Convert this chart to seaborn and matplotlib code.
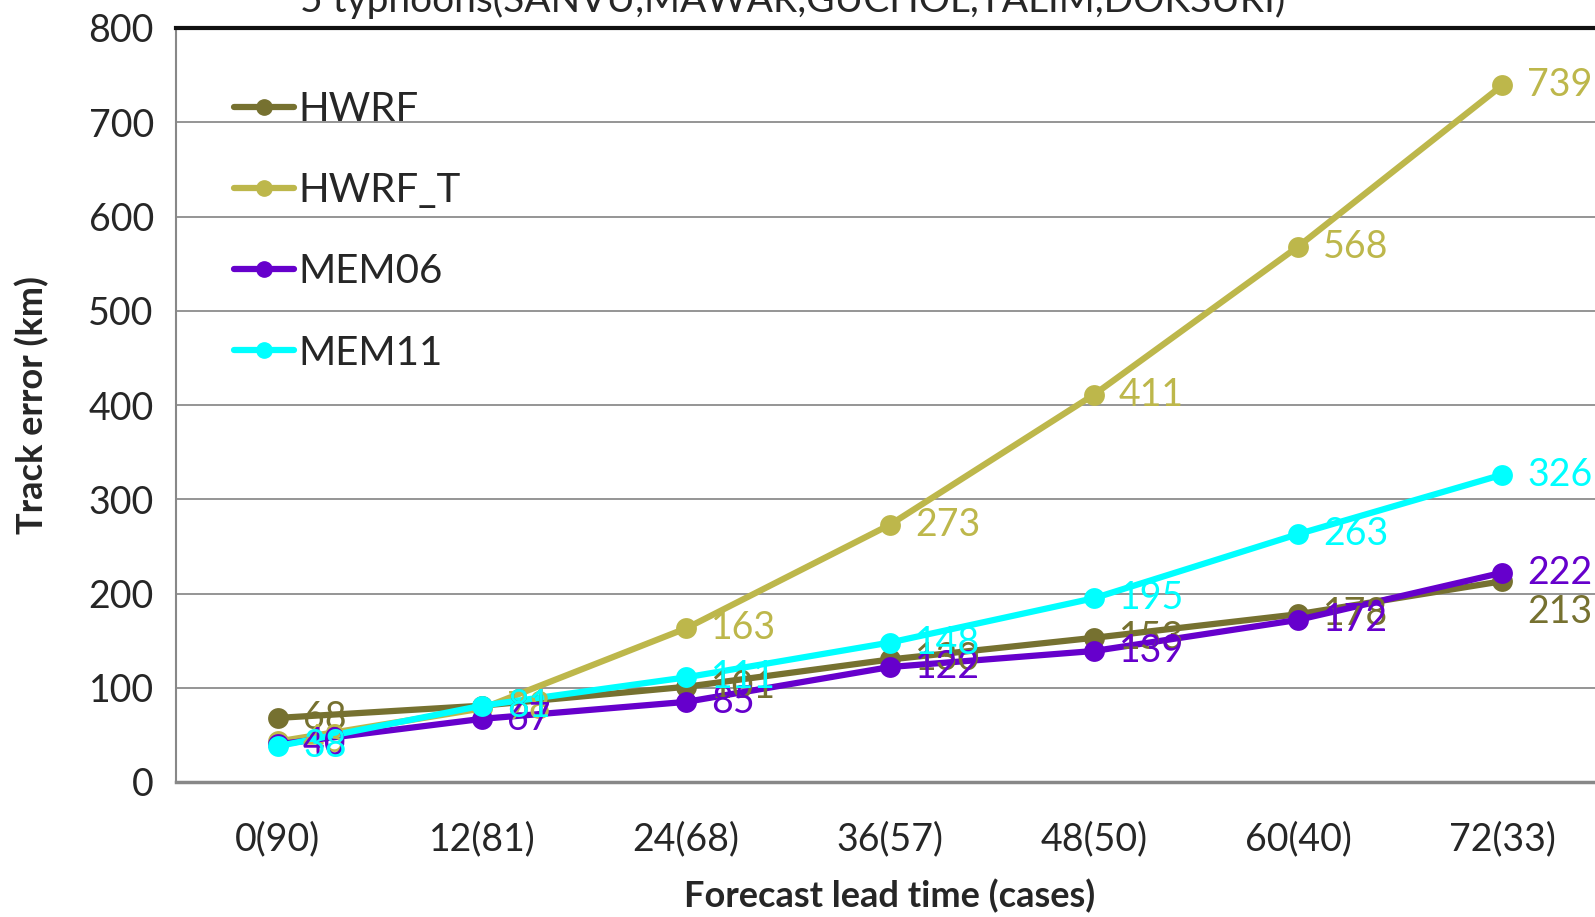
import numpy as np
import pandas as pd
import matplotlib
matplotlib.use("Agg")
import matplotlib.pyplot as plt
import seaborn as sns

# data
lead_labels = ["0(90)", "12(81)", "24(68)", "36(57)", "48(50)", "60(40)", "72(33)"]
hwrf = [68, 81, 101, 130, 153, 178, 213]
hwrf_t = [43, 78, 163, 273, 411, 568, 739]
mem06 = [40, 67, 85, 122, 139, 172, 222]
mem11 = [38, 81, 111, 148, 195, 263, 326]
series_names = ["HWRF", "HWRF_T", "MEM06", "MEM11"]
colors = ["#767130", "#BDB74B", "#6600CC", "#00FFFF"]

sns.set_style("white")
plt.rcParams['font.family'] = ['Lato', 'DejaVu Sans']

rows = []
for name, vals in zip(series_names, [hwrf, hwrf_t, mem06, mem11]):
    for i, v in enumerate(vals):
        rows.append({"pos": i, "lead": lead_labels[i], "error": v, "model": name})
df = pd.DataFrame(rows)

fig = plt.figure(figsize=(15.95, 9.17), dpi=100)
ax = fig.add_axes([176 / 1595, 1 - 782 / 917, (1604 - 176) / 1595, (782 - 28) / 917])

sns.lineplot(data=df, x="pos", y="error", hue="model", hue_order=series_names,
             palette=colors, marker="o", markersize=15, linewidth=4.5,
             markeredgewidth=0, ax=ax, legend=False, clip_on=False)

# data labels right of each point (last HWRF label sits below, like the original)
for name, col in zip(series_names, colors):
    sub = df[df["model"] == name]
    for _, r in sub.iterrows():
        dy = -22 if (name == "HWRF" and r["pos"] == len(lead_labels) - 1) else 0
        ax.annotate(str(r["error"]), (r["pos"], r["error"]), xytext=(18, dy),
                    textcoords="offset points", ha="left", va="center",
                    fontsize=27, color=col, zorder=10, annotation_clip=False)

ax.set_xlim(-0.5, 6.5)
ax.set_ylim(0, 800)
ax.set_yticks(np.arange(0, 801, 100))
ax.set_xticks(range(len(lead_labels)))
ax.set_xticklabels(lead_labels)
ax.set_xticks(np.arange(-0.5, 6.6, 1), minor=True)
ax.tick_params(axis="x", which="major", length=0, pad=28, labelsize=27)
ax.tick_params(axis="x", which="minor", length=12, width=1.2, color="#888888")
ax.tick_params(axis="y", length=8, width=1.5, color="#888888", labelsize=27, pad=8, direction="out")
ax.yaxis.grid(True, color="#8c8c8c", linewidth=1.3)
ax.set_axisbelow(True)

for s in ["left", "bottom"]:
    ax.spines[s].set_color("#888888")
ax.spines["left"].set_linewidth(1.5)
ax.spines["bottom"].set_linewidth(2.5)
ax.spines["top"].set_color("#111111")
ax.spines["top"].set_linewidth(3)
ax.spines["right"].set_visible(False)

ax.set_xlabel("Forecast lead time (cases)", fontsize=26, fontweight="bold", labelpad=16)
ax.set_ylabel("Track error (km)", fontsize=26, fontweight="bold", labelpad=28)

handles = [plt.Line2D([], [], color=c, marker="o", markersize=11, linewidth=4.5) for c in colors]
ax.legend(handles, series_names, loc="upper left", bbox_to_anchor=(0.015, 0.965),
          frameon=False, fontsize=29, handlelength=1.5, handletextpad=0.1,
          labelspacing=1.1)

fig.text(0.497, 1 - 12 / 917, "5 typhoons(SANVU,MAWAR,GUCHOL,TALIM,DOKSURI)",
         ha="center", va="baseline", fontsize=28)

fig.savefig("out.png", dpi=100)
